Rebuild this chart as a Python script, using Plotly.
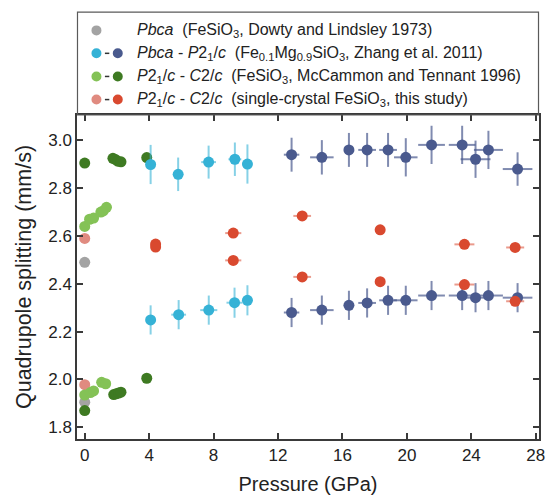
import plotly.graph_objects as go

# ---------------- data ----------------
# Dowty and Lindsley 1973, Pbca FeSiO3
dl_p = [0, 0]
dl_qs = [2.49, 1.905]

# Zhang et al. 2011, Pbca (light blue)
zp_p_high = [4.09, 5.8, 7.69, 9.32, 10.1]
zp_qs_high = [2.899, 2.858, 2.909, 2.921, 2.901]
zp_qerr_high = [0.082, 0.07, 0.069, 0.07, 0.082]
zp_perr_high = [0, 0, 0.46, 0.4, 0]
zp_p_low = [4.09, 5.83, 7.7, 9.3, 10.1]
zp_qs_low = [2.249, 2.271, 2.29, 2.321, 2.331]
zp_qerr_low = [0.061, 0.061, 0.061, 0.063, 0.063]
zp_perr_low = [0, 0.46, 0.53, 0.5, 0.3]

# Zhang et al. 2011, P21/c (dark blue)
zm_p = [12.84, 14.72, 16.4, 17.53, 18.83, 19.93, 21.53, 23.43, 24.26, 25.06, 26.87]
zm_qs_high = [2.94, 2.929, 2.96, 2.96, 2.96, 2.929, 2.981, 2.981, 2.921, 2.96, 2.88]
zm_qs_low = [2.28, 2.29, 2.31, 2.32, 2.331, 2.331, 2.351, 2.351, 2.342, 2.351, 2.342]
zm_perr = [0.48, 0.73, 0.3, 0.55, 0.55, 0.73, 0.83, 0.83, 0.93, 0.9, 0.92]
zm_qerr_high = [0.071, 0.072, 0.071, 0.071, 0.071, 0.08, 0.08, 0.08, 0.078, 0.08, 0.07]
zm_qerr_low = [0.061, 0.061, 0.061, 0.061, 0.061, 0.061, 0.061, 0.061, 0.061, 0.061, 0.061]

# McCammon and Tennant 1996, P21/c (light green)
mt1_p_high = [0, 0.3, 0.55, 1.0, 1.15, 1.35]
mt1_qs_high = [2.64, 2.67, 2.675, 2.70, 2.705, 2.72]
mt1_p_low = [0, 0.35, 0.55, 1.05, 1.3]
mt1_qs_low = [1.935, 1.945, 1.952, 1.988, 1.982]

# McCammon and Tennant 1996, C2/c (dark green)
mt2_p_high = [0, 1.75, 1.9, 2.05, 2.25, 3.85]
mt2_qs_high = [2.905, 2.925, 2.92, 2.913, 2.91, 2.928]
mt2_p_low = [0, 1.8, 1.95, 2.1, 2.25, 3.85]
mt2_qs_low = [1.87, 1.937, 1.94, 1.943, 1.947, 2.005]

# this study, P21/c (pink)
ts1_p = [0, 0]
ts1_qs = [2.59, 1.978]

# this study, C2/c (red)
ts2_p = [4.4, 9.22, 13.5, 18.34, 23.57, 26.72]
ts2_qs_high = [2.566, 2.612, 2.684, 2.626, 2.565, 2.552]
ts2_qs_low = [2.554, 2.498, 2.429, 2.409, 2.397, 2.327]
ts2_perr = [0, 0.5, 0.55, 0, 0.62, 0.56]

x_ticks = [0, 4, 8, 12, 16, 20, 24, 28]
y_ticks = [1.8, 2.0, 2.2, 2.4, 2.6, 2.8, 3.0]

# ---------------- style ----------------
C_GRAY = "#a3a3a3"
C_LBLUE = "#35b2d6"
C_DBLUE = "#4a5a8e"
C_LGREEN = "#84c256"
C_DGREEN = "#3e7a22"
C_PINK = "#e08b80"
C_RED = "#d9492f"
MS = 11
FONT = "Liberation Sans, Arial, Helvetica, sans-serif"

fig = go.Figure()


def pts(x, y, color, ex=None, ey=None, ecolor=None):
    kw = dict(x=x, y=y, mode="markers", showlegend=False, hoverinfo="skip",
              marker=dict(size=MS, color=color, line=dict(width=0)))
    if ex is not None:
        kw["error_x"] = dict(type="data", array=ex, visible=True, thickness=2,
                             width=0, color=ecolor)
    if ey is not None:
        kw["error_y"] = dict(type="data", array=ey, visible=True, thickness=2,
                             width=0, color=ecolor)
    fig.add_trace(go.Scatter(**kw))


pts(dl_p, dl_qs, C_GRAY)
pts(ts1_p, ts1_qs, C_PINK)
pts(mt1_p_high, mt1_qs_high, C_LGREEN)
pts(mt1_p_low, mt1_qs_low, C_LGREEN)
pts(mt2_p_high, mt2_qs_high, C_DGREEN)
pts(mt2_p_low, mt2_qs_low, C_DGREEN)
pts(zp_p_high, zp_qs_high, C_LBLUE, zp_perr_high, zp_qerr_high, "rgba(53,178,214,0.6)")
pts(zp_p_low, zp_qs_low, C_LBLUE, zp_perr_low, zp_qerr_low, "rgba(53,178,214,0.6)")
pts(zm_p, zm_qs_high, C_DBLUE, zm_perr, zm_qerr_high, "rgba(74,90,142,0.7)")
pts(zm_p, zm_qs_low, C_DBLUE, zm_perr, zm_qerr_low, "rgba(74,90,142,0.7)")
pts(ts2_p, ts2_qs_high, C_RED, ts2_perr, None, "rgba(217,73,47,0.55)")
pts(ts2_p, ts2_qs_low, C_RED, ts2_perr, None, "rgba(217,73,47,0.55)")

# ---------------- layout ----------------
W, H = 556, 503
L, R, T, B = 77, 11, 115, 56
PW, PH = W - L - R, H - T - B


def px_x(px):
    return (px - L) / PW


def px_y(py):
    return (H - B - py) / PH


axis_common = dict(
    showline=True, linecolor="#3a3a3a", linewidth=1.5, mirror="ticks",
    ticks="inside", ticklen=6, tickwidth=1.5, tickcolor="#3a3a3a",
    showgrid=False, zeroline=False,
    tickfont=dict(family=FONT, size=17, color="#222"),
)

fig.update_layout(
    width=W, height=H,
    margin=dict(l=L, r=R, t=T, b=B),
    paper_bgcolor="white", plot_bgcolor="white",
    font=dict(family=FONT, color="#222"),
    xaxis=dict(range=[-0.48, 28.2], tickvals=x_ticks,
               ticktext=[str(v) for v in x_ticks],
               title=dict(text="Pressure (GPa)", font=dict(family=FONT, size=20, color="#222"),
                          standoff=13),
               **axis_common),
    yaxis=dict(range=[1.751, 3.106], tickvals=y_ticks,
               ticktext=[f"{v:.1f}" for v in y_ticks],
               title=dict(text="Quadrupole splitting (mm/s)",
                          font=dict(family=FONT, size=21.5, color="#222"), standoff=11),
               **axis_common),
)

# legend box
fig.add_shape(type="rect", xref="paper", yref="paper",
              x0=px_x(77.5), x1=px_x(544.5), y0=px_y(115), y1=px_y(9.5),
              line=dict(color="#5a5a5a", width=1.2), fillcolor="rgba(0,0,0,0)", layer="above")

legend_rows = [
    (28.3, [C_GRAY], "<i>Pbca</i>\u00a0 (FeSiO<sub>3</sub>, Dowty and Lindsley 1973)"),
    (51.8, [C_LBLUE, C_DBLUE],
     "<i>Pbca</i> - <i>P</i>2<sub>1</sub>/<i>c</i>\u00a0 (Fe<sub>0.1</sub>Mg<sub>0.9</sub>SiO<sub>3</sub>, Zhang et al. 2011)"),
    (75.5, [C_LGREEN, C_DGREEN],
     "<i>P</i>2<sub>1</sub>/<i>c</i> - <i>C</i>2/<i>c</i>\u00a0 (FeSiO<sub>3</sub>, McCammon and Tennant 1996)"),
    (99.2, [C_PINK, C_RED],
     "<i>P</i>2<sub>1</sub>/<i>c</i> - <i>C</i>2/<i>c</i>\u00a0 (single-crystal FeSiO<sub>3</sub>, this study)"),
]

for ry, cols, txt in legend_rows:
    xs = [96.7, 118.3][:len(cols)]
    for cx, col in zip(xs, cols):
        fig.add_shape(type="circle", xref="paper", yref="paper",
                      xsizemode="pixel", ysizemode="pixel",
                      xanchor=px_x(cx), yanchor=px_y(ry),
                      x0=-5, x1=5, y0=-5, y1=5,
                      fillcolor=col, line=dict(width=0))
    if len(cols) == 2:
        fig.add_shape(type="line", xref="paper", yref="paper",
                      xsizemode="pixel", ysizemode="pixel",
                      xanchor=px_x(107.5), yanchor=px_y(ry),
                      x0=-2.2, x1=2.2, y0=0, y1=0,
                      line=dict(color="#333", width=1.5))
    fig.add_annotation(xref="paper", yref="paper", x=px_x(136), y=px_y(ry),
                       xanchor="left", yanchor="middle", showarrow=False,
                       text=txt, font=dict(family=FONT, size=16, color="#222"))

fig.write_html("out.html")
